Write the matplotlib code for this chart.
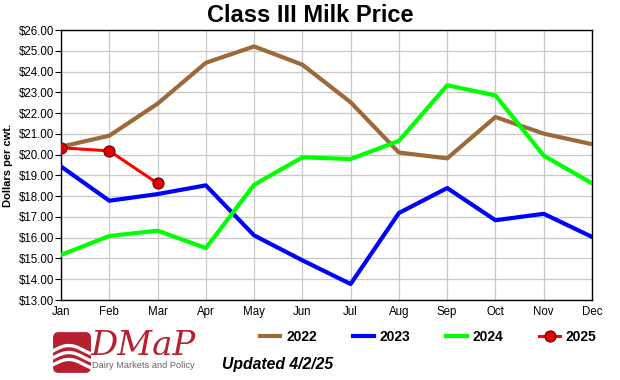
import matplotlib.pyplot as plt
from matplotlib.patches import FancyBboxPatch
import numpy as np

plt.rcParams['font.family'] = ['Liberation Sans', 'DejaVu Sans']

# === Data ===
months = ['Jan', 'Feb', 'Mar', 'Apr', 'May', 'Jun', 'Jul', 'Aug', 'Sep', 'Oct', 'Nov', 'Dec']
p2022 = [20.38, 20.91, 22.45, 24.42, 25.21, 24.33, 22.52, 20.10, 19.82, 21.81, 21.01, 20.50]
p2023 = [19.43, 17.78, 18.10, 18.52, 16.11, 14.91, 13.77, 17.19, 18.39, 16.84, 17.15, 16.04]
p2024 = [15.17, 16.08, 16.34, 15.50, 18.55, 19.87, 19.79, 20.66, 23.34, 22.85, 19.95, 18.62]
p2025 = [20.33, 20.18, 18.62]
yticks = np.arange(13, 27, 1)

# === Figure ===
fig = plt.figure(figsize=(6.2, 3.8), dpi=100)
ax = fig.add_axes([61/620, 1 - 300/380, 531/620, 270/380])

x = np.arange(len(months))
ax.plot(x, p2022, color='#9C6A3A', lw=3.0, label='2022', zorder=3)
ax.plot(x, p2023, color='#0000FF', lw=3.0, label='2023', zorder=3)
ax.plot(x, p2024, color='#00FF00', lw=3.0, label='2024', zorder=3)
ax.plot(x[:len(p2025)], p2025, color='#FF0000', lw=2.2, marker='o', ms=8,
        markerfacecolor='#E00000', markeredgecolor='#6A0000', markeredgewidth=0.8,
        label='2025', zorder=4)

# === Axes styling ===
ax.set_xlim(0, 11)
ax.set_ylim(13, 26)
ax.set_xticks(x)
ax.set_xticklabels(months, fontsize=8.3)
ax.set_yticks(yticks)
ax.set_yticklabels(['${:.2f}'.format(v) for v in yticks], fontsize=8.3)
ax.grid(True, color='#C8C8C8', lw=0.9, zorder=0)
ax.tick_params(axis='y', length=4, width=0.8, pad=1)
ax.tick_params(axis='x', length=0, pad=4)
for s in ax.spines.values():
    s.set_linewidth(1.0)
    s.set_color('black')
ax.set_ylabel('Dollars per cwt.', fontsize=8, fontweight='bold', labelpad=4)

fig.text(310/620, 1 - 16/380, 'Class III Milk Price', ha='center', va='center',
         fontsize=17, fontweight='bold')

# === Legend ===
leg = fig.legend(loc='center', bbox_to_anchor=(428/620, 1 - 337/380), ncol=4,
                 frameon=False, handlelength=1.5, handletextpad=0.4,
                 columnspacing=2.6, prop={'weight': 'bold', 'size': 10})

# === Updated note ===
fig.text(222/620, 1 - 365/380, 'Updated 4/2/25', ha='left', va='center',
         fontsize=11.3, fontweight='bold', fontstyle='italic')

# === DMaP logo ===
logo_ax = fig.add_axes([53/620, 1 - 373/380, 38/620, 41/380])
logo_ax.set_xlim(0, 1)
logo_ax.set_ylim(0, 1)
logo_ax.axis('off')
logo_ax.add_patch(FancyBboxPatch((0.02, 0.02), 0.96, 0.96, boxstyle='round,pad=0,rounding_size=0.12',
                                 color='#B8202F'))
t = np.linspace(0, 1, 50)
for y0 in [0.55, 0.38, 0.21]:
    logo_ax.plot(t * 0.95 + 0.02, y0 + 0.12 * np.sin(np.pi * t * 1.2), color='white', lw=2.4)
fig.text(91/620, 1 - 346/380, 'DMaP', ha='left', va='center', fontsize=24.5,
         fontstyle='italic', family='DejaVu Serif', color='#B8202F')
fig.text(92/620, 1 - 365/380, 'Dairy Markets and Policy', ha='left', va='center',
         fontsize=6.7, color='#666666')

plt.savefig('out.png', dpi=100)
